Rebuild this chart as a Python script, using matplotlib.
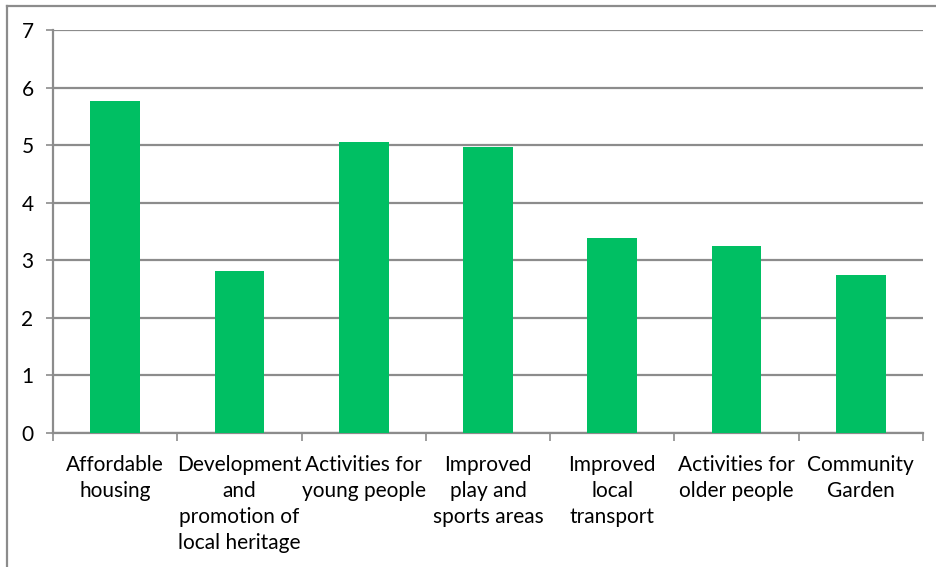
import matplotlib
matplotlib.use("Agg")
import matplotlib.pyplot as plt
from matplotlib.lines import Line2D

categories = ["Affordable\nhousing", "Development\nand\npromotion of\nlocal heritage",
              "Activities for\nyoung people", "Improved\nplay and\nsports areas",
              "Improved\nlocal\ntransport", "Activities for\nolder people", "Community\nGarden"]
values = [5.77, 2.81, 5.06, 4.96, 3.39, 3.25, 2.74]
yticks = [0, 1, 2, 3, 4, 5, 6, 7]

plt.rcParams['font.family'] = ['Lato', 'DejaVu Sans']

W, H = 936, 567
fig = plt.figure(figsize=(W/100, H/100), dpi=100)
ax = fig.add_axes([53/W, 1-433/H, (923-53)/W, (433-30)/H])

x = list(range(len(categories)))
ax.bar(x, values, width=0.4, color="#00BF63", zorder=3)
ax.set_xlim(-0.5, len(categories)-0.5)
ax.set_ylim(0, 7)
ax.set_yticks(yticks)
ax.yaxis.grid(True, color="#8c8c8c", linewidth=1.6, zorder=0)
for s in ["top", "right"]:
    ax.spines[s].set_visible(False)
for s in ["left", "bottom"]:
    ax.spines[s].set_color("#8c8c8c")
    ax.spines[s].set_linewidth(1.6)
ax.set_xticks([i - 0.5 for i in range(len(categories)+1)])
ax.set_xticklabels([])
ax.set_xticks(x, minor=True)
ax.set_xticklabels(categories, minor=True, fontsize=15, linespacing=1.38, va="top")
ax.tick_params(axis="x", which="major", length=5.5, width=1.2, color="#8c8c8c", direction="out")
ax.tick_params(axis="x", which="minor", length=0, pad=16)
ax.tick_params(axis="y", length=5, width=1.2, color="#8c8c8c", labelsize=15, pad=9)

# outer frame
fig.add_artist(Line2D([6.5/W, 6.5/W], [0, 1-5.5/H], transform=fig.transFigure, color="#8c8c8c", lw=1.6))
fig.add_artist(Line2D([6.5/W, 1], [1-5.5/H, 1-5.5/H], transform=fig.transFigure, color="#8c8c8c", lw=1.6))

fig.savefig("out.png", dpi=100, facecolor="white")
